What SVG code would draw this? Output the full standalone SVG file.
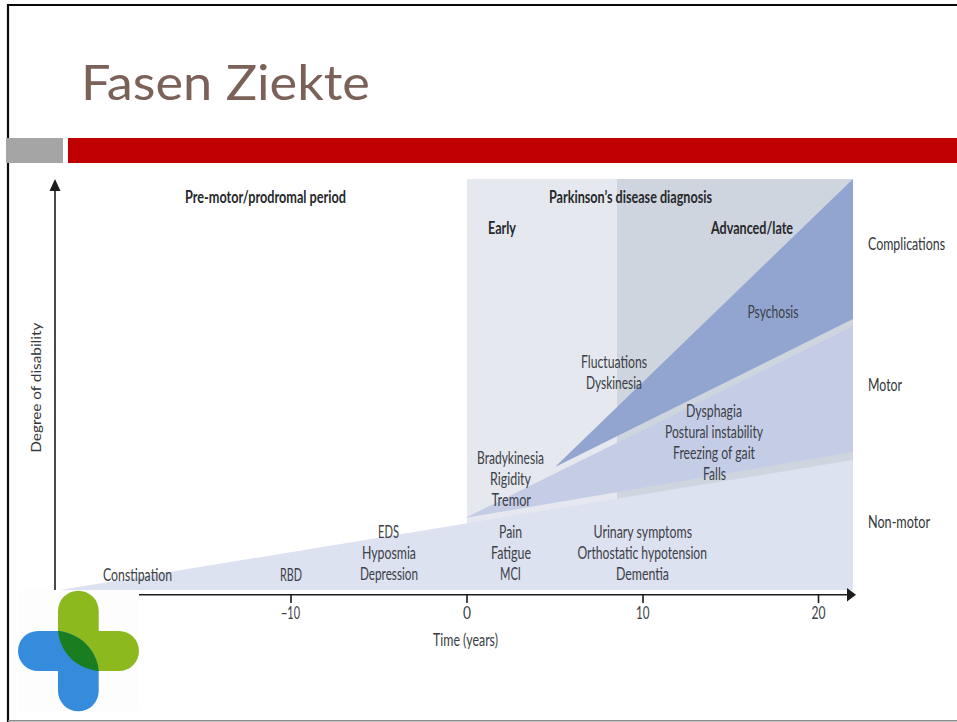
<svg xmlns="http://www.w3.org/2000/svg" width="957" height="722" viewBox="0 0 957 722">
<style>
text{font-family:"Lato","Open Sans","Liberation Sans",sans-serif;font-size:16.5px;fill:#3b4046}
.b{font-weight:700;fill:#26282b}
.o{fill:#32363a}
.ax{stroke:#1c1c1c;stroke-width:1.6;fill:none}
.head{fill:#1c1c1c}
</style>
<rect width="957" height="722" fill="#fff"/>
<g id="frame">
<path d="M8 722V5H957" fill="none" stroke="#0a0a0a" stroke-width="2.2"/>
<path d="M8 720.7H957" fill="none" stroke="#8a8a8a" stroke-width="1.4"/>
<rect x="6" y="138" width="57" height="25" fill="#a5a5a5"/>
<rect x="68" y="138" width="889" height="25" fill="#c00000"/>
</g>
<g id="title"><text x="81" y="100" textLength="289" lengthAdjust="spacingAndGlyphs" style="font-size:49px;fill:#7b6158">Fasen Ziekte</text></g>
<g id="phase-panels">
<rect x="467" y="179" width="150" height="345" fill="#e5e8ef"/>
<rect x="617" y="179" width="236" height="322" fill="#cfd5de"/>
</g>
<g id="non-motor"><polygon points="60,590 853,460 853,590 60,590" fill="#dde2f1"/></g>
<g id="motor"><polygon points="465,518 853,326 853,452" fill="#c5cde6"/></g>
<g id="complications"><polygon points="555,467 853,179 853,319" fill="#92a5d0"/></g>
<g id="connectors">
<path class="ax" d="M55 590V190"/>
<polygon class="head" points="55,179 49.500,191 60.500,191"/>
<path class="ax" d="M139 594.800H848"/>
<polygon class="head" points="856,594.800 847,588 847,601.500"/>
<path class="ax" d="M291 595V603M467 595V603M643 595V603M818.500 595V603"/>
</g>
<g id="logo">
<rect x="18" y="590" width="121" height="121" fill="#fdfdfd"/>
<path d="M58 611a20.300 20.300 0 0 1 40.700 0V631H119a20 20 0 0 1 0 40H98.700C76 669 60 652 58 631Z" fill="#8cba1e"/>
<path d="M18 651a20 20 0 0 1 20-20H58C80 633 97 650 98.700 671V691a20.300 20.300 0 0 1-40.700 0V671H38a20 20 0 0 1-20-20Z" fill="#368cdc"/>
<path d="M58 631C80 633 97 650 98.700 671C76 669 60 652 58 631Z" fill="#1a7d1f"/>
</g>
<g id="headers" transform="translate(0 .7)">
<text class="b" x="185" y="202" textLength="161" lengthAdjust="spacingAndGlyphs">Pre-motor/prodromal period</text>
<text class="b" x="549" y="202" textLength="163" lengthAdjust="spacingAndGlyphs">Parkinson’s disease diagnosis</text>
<text class="b" x="488" y="233" textLength="28" lengthAdjust="spacingAndGlyphs">Early</text>
<text class="b" x="711" y="233" textLength="82" lengthAdjust="spacingAndGlyphs">Advanced/late</text>
</g>
<g id="category-labels" transform="translate(0 .7)">
<text class="o" transform="translate(868 249) scale(.75 1)">Complications</text>
<text class="o" x="868" y="390" textLength="34" lengthAdjust="spacingAndGlyphs">Motor</text>
<text class="o" x="868" y="527" textLength="62" lengthAdjust="spacingAndGlyphs">Non-motor</text>
</g>
<g id="symptoms" transform="translate(0 .7)">
<text x="747.500" y="317" textLength="51" lengthAdjust="spacingAndGlyphs">Psychosis</text>
<text x="581" y="367" textLength="66" lengthAdjust="spacingAndGlyphs">Fluctuations</text>
<text x="586" y="388" textLength="56" lengthAdjust="spacingAndGlyphs">Dyskinesia</text>
<text x="686" y="416" textLength="56" lengthAdjust="spacingAndGlyphs">Dysphagia</text>
<text x="665" y="437" textLength="98" lengthAdjust="spacingAndGlyphs">Postural instability</text>
<text x="673" y="458" textLength="82" lengthAdjust="spacingAndGlyphs">Freezing of gait</text>
<text x="703" y="479" textLength="23" lengthAdjust="spacingAndGlyphs">Falls</text>
<text x="477" y="463" textLength="67" lengthAdjust="spacingAndGlyphs">Bradykinesia</text>
<text x="490" y="484" textLength="41" lengthAdjust="spacingAndGlyphs">Rigidity</text>
<text x="491.500" y="505" textLength="39.500" lengthAdjust="spacingAndGlyphs">Tremor</text>
<text x="499" y="537" textLength="23" lengthAdjust="spacingAndGlyphs">Pain</text>
<text x="491" y="558" textLength="40" lengthAdjust="spacingAndGlyphs">Fatigue</text>
<text x="500" y="579" textLength="21" lengthAdjust="spacingAndGlyphs">MCI</text>
<text x="593.500" y="537" textLength="98.500" lengthAdjust="spacingAndGlyphs">Urinary symptoms</text>
<text x="577.500" y="558" textLength="129.500" lengthAdjust="spacingAndGlyphs">Orthostatic hypotension</text>
<text x="616" y="579" textLength="53" lengthAdjust="spacingAndGlyphs">Dementia</text>
<text x="378" y="537" textLength="21" lengthAdjust="spacingAndGlyphs">EDS</text>
<text x="362" y="558" textLength="54" lengthAdjust="spacingAndGlyphs">Hyposmia</text>
<text x="360" y="579" textLength="58" lengthAdjust="spacingAndGlyphs">Depression</text>
<text x="103" y="580" textLength="69" lengthAdjust="spacingAndGlyphs">Constipation</text>
<text x="280" y="580" textLength="22" lengthAdjust="spacingAndGlyphs">RBD</text>
</g>
<g id="axis-labels" transform="translate(0 .7)">
<text x="281" y="618" textLength="19" lengthAdjust="spacingAndGlyphs">−10</text>
<text x="463" y="618" textLength="8" lengthAdjust="spacingAndGlyphs">0</text>
<text x="636" y="618" textLength="13.500" lengthAdjust="spacingAndGlyphs">10</text>
<text x="811.500" y="618" textLength="14" lengthAdjust="spacingAndGlyphs">20</text>
<text x="433" y="645" textLength="65" lengthAdjust="spacingAndGlyphs">Time (years)</text>
<text transform="translate(41 452) rotate(-90)" textLength="130" lengthAdjust="spacingAndGlyphs" style="font-size:14px;fill:#33373b">Degree of disability</text>
</g>
</svg>
